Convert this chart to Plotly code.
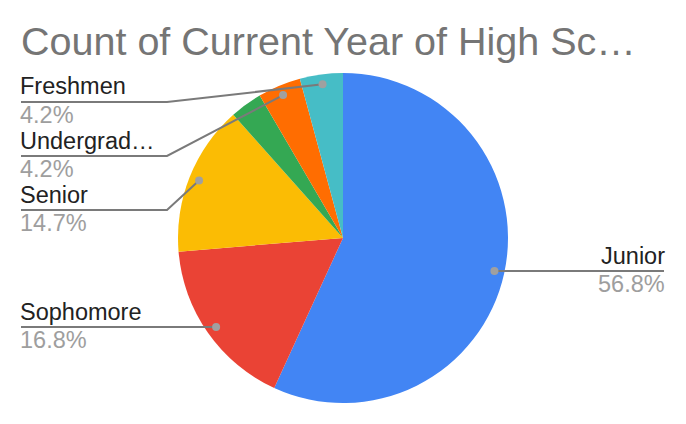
import math
import plotly.graph_objects as go

# ---- data ----
categories = ["Junior", "Sophomore", "Senior", "Other", "Undergraduate", "Freshmen"]
counts = [54, 16, 14, 3, 4, 4]
display_labels = ["Junior", "Sophomore", "Senior", None, "Undergrad…", "Freshmen"]
title_text = "Count of Current Year of High Sc…"

# ---- style / layout ----
colors = ["#4285f4", "#ea4335", "#fbbc04", "#34a853", "#ff6d01", "#46bdc6"]
W, H = 686, 424
CX, CY, R = 343, 238, 165          # pie centre / radius in px
R_DOT = 155                        # leader dot distance from centre
LEFT_X, RIGHT_X, ELBOW_X = 21, 664, 167
TXT_PAD = 3                        # annotation inner padding in px
# label rows for leaders that bend (px from top); None = straight horizontal
label_rows = [None, None, 210, None, 156, 102]
label_side = ["right", "left", "left", None, "left", "left"]
FONT = "Liberation Sans, Arial, sans-serif"
FS = 23.5
LINE_COL = "#7a7a7a"
DOT_COL = "#a0a0a0"


def px(x):
    return x / W


def py(y):
    return 1 - y / H


fig = go.Figure(go.Pie(
    labels=categories, values=counts, sort=False, direction="clockwise",
    rotation=0, marker=dict(colors=colors, line=dict(width=0)),
    textinfo="none", showlegend=False, hole=0,
    domain=dict(x=[px(CX - R), px(CX + R)], y=[py(CY + R), py(CY - R)]),
))

total = sum(counts)
shapes, annotations = [], []
cum = 0
for i, v in enumerate(counts):
    mid = (cum + v / 2) / total * 2 * math.pi
    cum += v
    if display_labels[i] is None:
        continue
    dx = CX + R_DOT * math.sin(mid)
    dy = CY - R_DOT * math.cos(mid)
    side = label_side[i]
    row = dy if label_rows[i] is None else label_rows[i]
    end_x = RIGHT_X if side == "right" else LEFT_X
    if label_rows[i] is None:
        path = f"M {px(dx)},{py(dy)} L {px(end_x)},{py(row)}"
    else:
        path = (f"M {px(dx)},{py(dy)} L {px(ELBOW_X)},{py(row)} "
                f"L {px(end_x)},{py(row)}")
    shapes.append(dict(type="path", xref="paper", yref="paper", path=path,
                       line=dict(color=LINE_COL, width=2)))
    r = 4
    shapes.append(dict(type="circle", xref="paper", yref="paper",
                       x0=px(dx - r), x1=px(dx + r), y0=py(dy + r), y1=py(dy - r),
                       fillcolor=DOT_COL, line=dict(width=0)))
    pct = f"{v / total * 100:.1f}%"
    anchor = "right" if side == "right" else "left"
    tx = end_x + TXT_PAD if side == "right" else end_x - TXT_PAD
    annotations.append(dict(x=px(tx), y=py(row - 15.5), xref="paper", yref="paper",
                            text=display_labels[i], showarrow=False,
                            xanchor=anchor, yanchor="middle",
                            font=dict(family=FONT, size=FS, color="#222222")))
    annotations.append(dict(x=px(tx), y=py(row + 13), xref="paper", yref="paper",
                            text=pct, showarrow=False,
                            xanchor=anchor, yanchor="middle",
                            font=dict(family=FONT, size=FS, color="#9e9e9e")))

annotations.append(dict(x=px(19), y=py(41), xref="paper", yref="paper",
                        text=title_text, showarrow=False,
                        xanchor="left", yanchor="middle",
                        font=dict(family=FONT, size=39.5, color="#757575")))

fig.update_layout(width=W, height=H, margin=dict(l=0, r=0, t=0, b=0),
                  paper_bgcolor="white", plot_bgcolor="white",
                  shapes=shapes, annotations=annotations)

fig.write_html("out.html", config={"displayModeBar": False},
               post_script="document.body.style.margin='0';document.body.style.padding='0';")
